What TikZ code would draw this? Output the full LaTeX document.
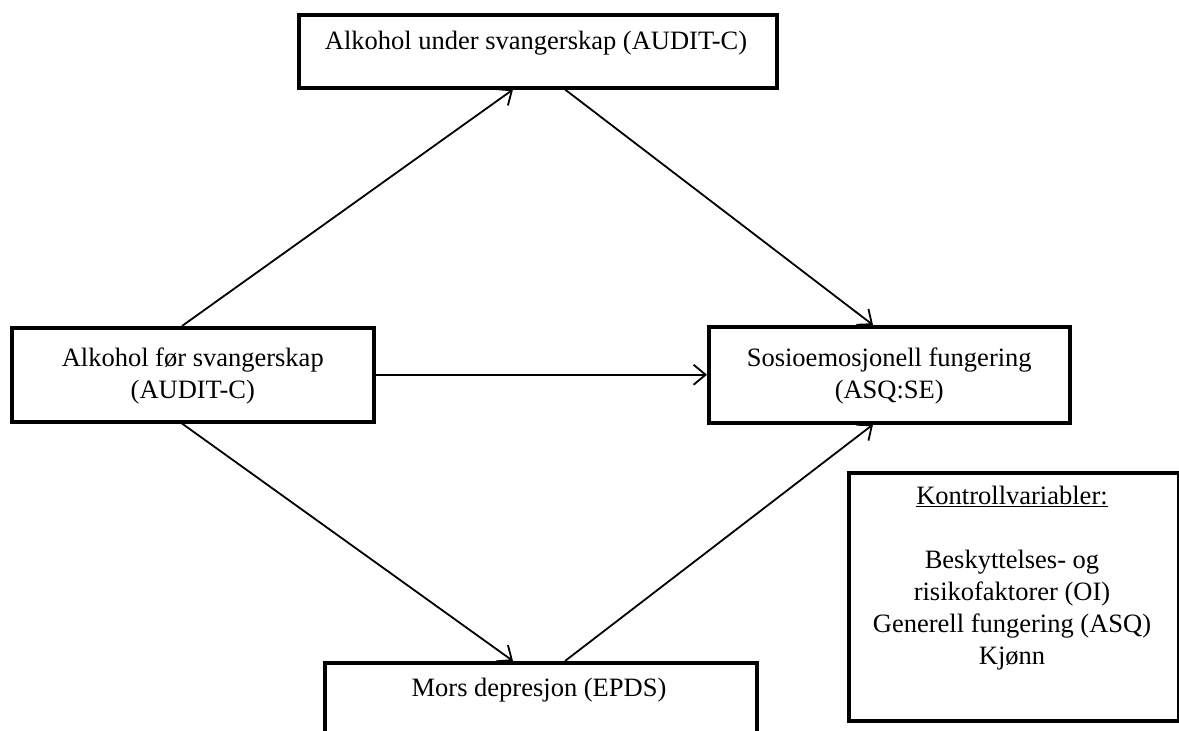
\documentclass[tikz,border=0pt]{standalone}
\usepackage{fontspec}
\setmainfont{Liberation Serif}
\usetikzlibrary{arrows.meta}
\newcommand{\fs}{\fontsize{26.5}{32}\selectfont}
\tikzset{
  box/.style={draw, line width=3.5pt, rectangle, inner sep=0pt, anchor=north west},
  lbl/.style={font=\fs, align=center, inner sep=0pt},
  conn/.style={line width=1.8pt, -{Straight Barb[length=12pt,width=20pt,line width=1.8pt]}}
}
\begin{document}
\begin{tikzpicture}[x=1pt,y=-1pt]
\useasboundingbox (0,0) rectangle (1179,731);
\clip (0,0) rectangle (1179,731);
\fill[white] (0,0) rectangle (1179,731);
% boxes
\node[box, minimum width=478pt, minimum height=73pt] (top) at (297,13) {};
\node[box, minimum width=362pt, minimum height=94pt] (left) at (10,326) {};
\node[box, minimum width=361pt, minimum height=96pt] (sosio) at (707,325) {};
\node[box, minimum width=432pt, minimum height=120pt] (bot) at (323,661) {};
\node[box, minimum width=330pt, minimum height=248pt] (ctrl) at (847,471) {};
% texts
\node[lbl] (toptxt) at (536,43) {Alkohol under svangerskap (AUDIT-C)};
\node[lbl] (lefttxt) at ([yshift=-1pt]left.center) {Alkohol før svangerskap\\(AUDIT-C)};
\node[lbl] (sosiotxt) at ([yshift=-1pt]sosio.center) {Sosioemosjonell fungering\\(ASQ:SE)};
\node[lbl] (bottxt) at (539,690) {Mors depresjon (EPDS)};
\node[lbl, anchor=north] (ctrltxt) at (1012,486) {\underline{Kontrollvariabler:}\\[32pt]Beskyttelses- og\\risikofaktorer (OI)\\Generell fungering (ASQ)\\Kjønn};
% connectors
\draw[conn] ([xshift=172pt]left.north west) -- ([xshift=216pt]top.south west);
\draw[conn] ([xshift=268pt]top.south west) -- ([xshift=166pt]sosio.north west);
\draw[conn] (left.east) -- (sosio.west);
\draw[conn] ([xshift=172pt]left.south west) -- ([xshift=190pt]bot.north west);
\draw[conn] ([xshift=242pt]bot.north west) -- ([xshift=166pt]sosio.south west);
\end{tikzpicture}
\end{document}
